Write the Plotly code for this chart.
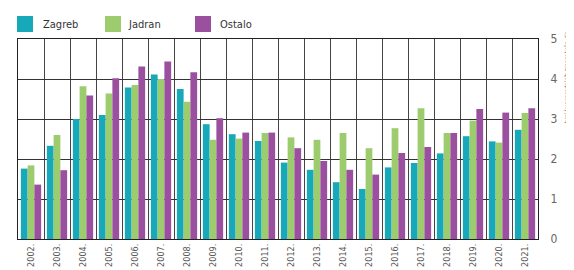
import plotly.graph_objects as go

years = ["2002.", "2003.", "2004.", "2005.", "2006.", "2007.", "2008.", "2009.", "2010.", "2011.",
         "2012.", "2013.", "2014.", "2015.", "2016.", "2017.", "2018.", "2019.", "2020.", "2021."]
zagreb = [1.76, 2.33, 3.00, 3.10, 3.79, 4.11, 3.75, 2.87, 2.62, 2.45,
          1.91, 1.73, 1.42, 1.25, 1.79, 1.90, 2.14, 2.57, 2.44, 2.73]
jadran = [1.84, 2.60, 3.82, 3.64, 3.85, 4.00, 3.43, 2.48, 2.51, 2.65,
          2.54, 2.48, 2.65, 2.27, 2.77, 3.27, 2.65, 2.96, 2.41, 3.15]
ostalo = [1.36, 1.72, 3.59, 4.02, 4.31, 4.44, 4.17, 3.02, 2.66, 2.66,
          2.27, 1.95, 1.73, 1.61, 2.15, 2.30, 2.65, 3.25, 3.16, 3.27]
series_names = ["Zagreb", "Jadran", "Ostalo"]
colors = ["#17a8ba", "#9ccc6e", "#9a4f9f"]
y_ticks = [0, 1, 2, 3, 4, 5]
axis_title = "broj kupoprodajnih transakcija, tis."

FONT = "DejaVu Sans Condensed, Liberation Sans Narrow, Roboto Condensed, DejaVu Sans, sans-serif"

W, H = 574, 270
L, R, T, B = 10, 44, 31, 39
PW, PH = W - L - R, H - T - B


def px_x(px):
    return (px - L) / PW


def px_y(py):
    return (H - B - py) / PH


fig = go.Figure()
for name, vals, col in zip(series_names, [zagreb, jadran, ostalo], colors):
    fig.add_trace(go.Bar(x=years, y=vals, name=name, marker=dict(color=col, line=dict(width=0)),
                         showlegend=False))

fig.update_layout(
    width=W, height=H,
    margin=dict(l=L, r=R, t=T, b=B, autoexpand=False),
    paper_bgcolor="white", plot_bgcolor="white",
    barmode="group", bargap=0.22, bargroupgap=0.0,
    font=dict(family=FONT, size=10, color="#333"),
    showlegend=False,
    xaxis=dict(type="category", tickson="boundaries", showgrid=True, gridcolor="#444", gridwidth=1,
               showline=True, linecolor="#222", linewidth=1.2, mirror=True,
               tickangle=-90, ticks="", tickfont=dict(family=FONT, size=9, color="#555")),
    yaxis=dict(side="right", range=[0, 5], tickvals=y_ticks, showgrid=True, gridcolor="#333", gridwidth=1,
               showline=True, linecolor="#222", linewidth=1.2, mirror=True, zeroline=False,
               ticks="", ticklabelstandoff=9, tickfont=dict(family=FONT, size=12, color="#666")),
)

# manual legend
legend_sq_x = [9, 97, 187]
legend_txt_x = [33, 118, 210]
for name, col, sx, tx in zip(series_names, colors, legend_sq_x, legend_txt_x):
    fig.add_shape(type="rect", xref="paper", yref="paper",
                  x0=px_x(sx), x1=px_x(sx + 16), y0=px_y(24), y1=px_y(8),
                  fillcolor=col, line=dict(width=0))
    fig.add_annotation(x=px_x(tx), y=px_y(16), xref="paper", yref="paper", text=name,
                       showarrow=False, xanchor="left", yanchor="middle",
                       font=dict(family=FONT, size=11, color="#333"))

fig.add_annotation(x=px_x(565), y=px_y(68), xref="paper", yref="paper", text=axis_title, showarrow=False,
                   textangle=-90, font=dict(family=FONT, size=6, color="#444"),
                   xanchor="right", yanchor="middle")

fig.write_html("out.html")
